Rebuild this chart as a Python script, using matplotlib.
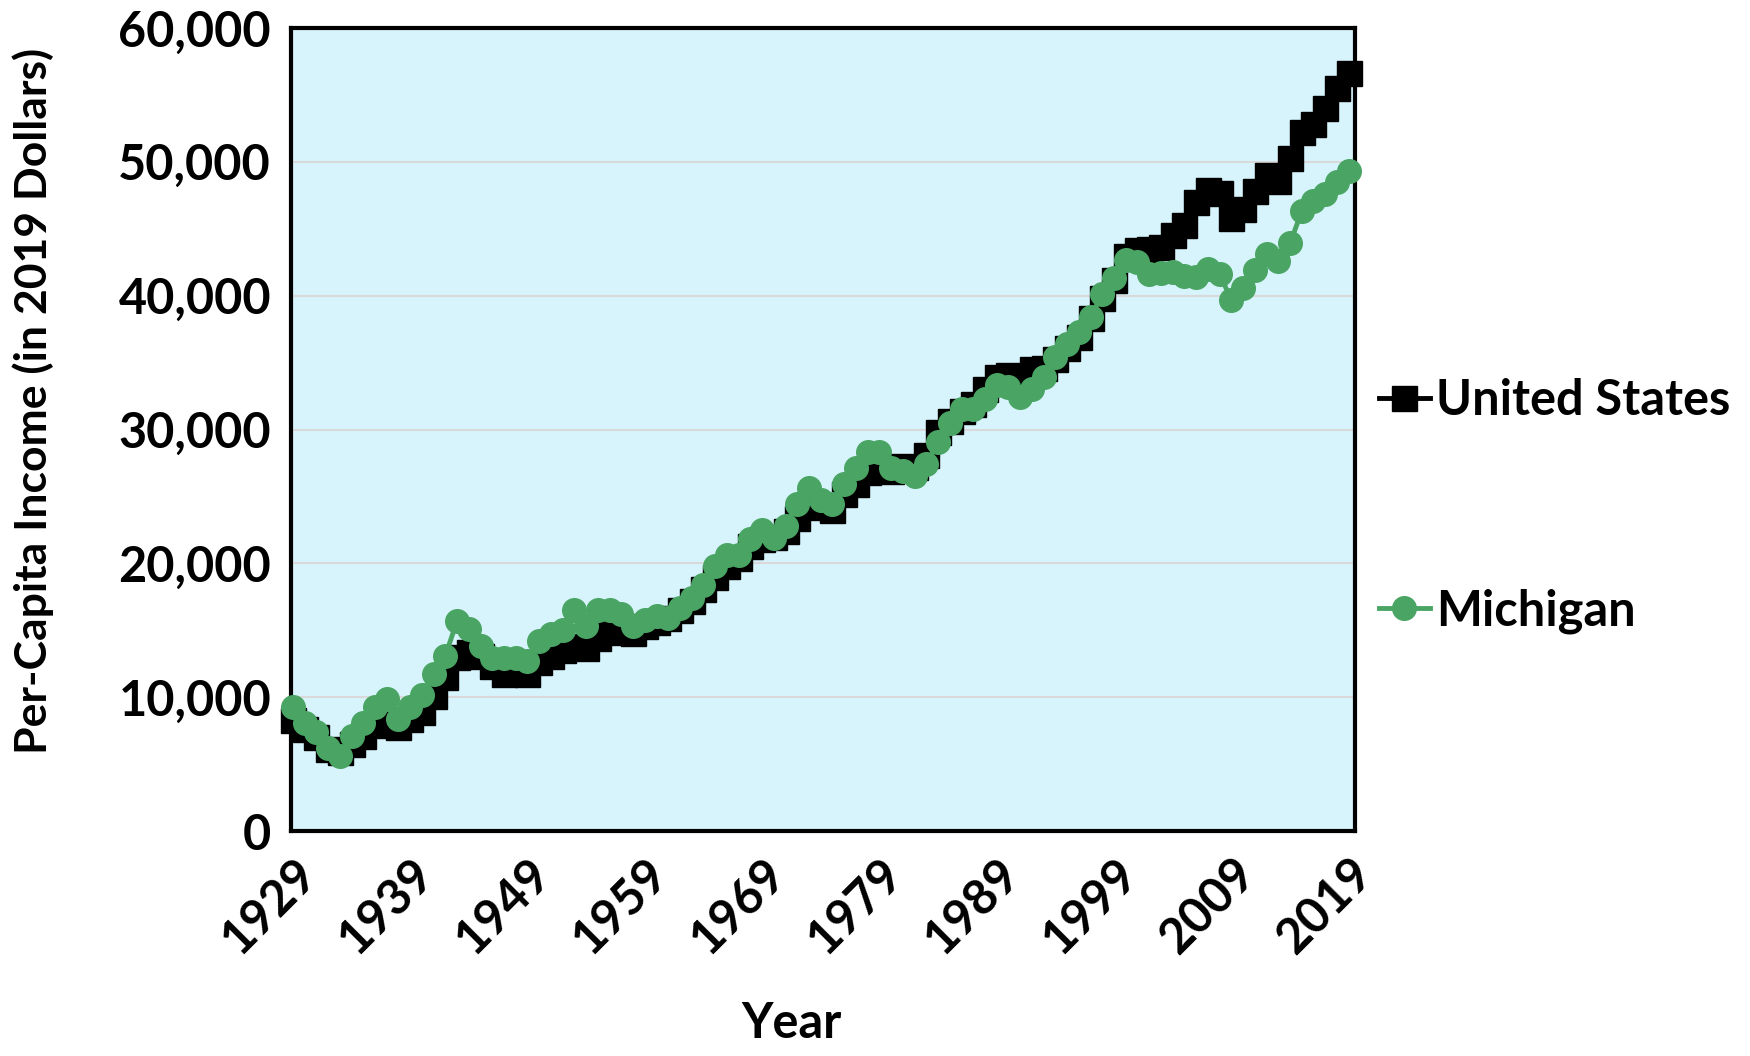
import matplotlib
matplotlib.use("Agg")
import matplotlib.pyplot as plt
from matplotlib.ticker import FuncFormatter

# per-capita income, 2019 dollars
years = list(range(1929, 2020))

us = [
    8300, 7600, 7000, 6100, 5900, 6500, 7100, 7900, 8300, 7800,   # 1929-1938
    8400, 8900, 10100, 11500, 13000, 13400, 13100, 12300, 11700, 11800,   # 1939-1948
    11700, 12600, 13100, 13500, 13800, 13700, 14400, 14900, 15000, 14800,   # 1949-1958
    15300, 15600, 15900, 16500, 17200, 18100, 19000, 19800, 20400, 21300,   # 1959-1968
    21800, 22000, 22400, 23400, 24400, 24200, 24000, 25200, 25900, 26800,   # 1969-1978
    27100, 26900, 27300, 27200, 28100, 29800, 30600, 31400, 31900, 33000,   # 1979-1988
    33900, 34100, 34000, 34500, 34600, 35300, 36100, 36900, 38300, 39800,   # 1989-1998
    41200, 43000, 43400, 43500, 43600, 44500, 45300, 47000, 47900, 47700,   # 1999-2008
    45800, 46500, 47800, 49000, 48600, 50300, 52200, 52800, 54000, 55500,   # 2009-2018
    56600,   # 2019
]

michigan = [
    9300, 8100, 7400, 6200, 5600, 7100, 8100, 9300, 9900, 8400,   # 1929-1938
    9300, 10200, 11700, 13100, 15700, 15100, 13800, 12900, 12900, 12900,   # 1939-1948
    12700, 14200, 14700, 15000, 16500, 15300, 16500, 16500, 16200, 15300,   # 1949-1958
    15800, 16100, 15900, 16700, 17400, 18400, 19800, 20600, 20600, 21800,   # 1959-1968
    22500, 21900, 22800, 24400, 25600, 24700, 24400, 25900, 27100, 28300,   # 1969-1978
    28300, 27100, 26900, 26500, 27400, 29100, 30500, 31500, 31500, 32300,   # 1979-1988
    33300, 33200, 32400, 33000, 33900, 35400, 36400, 37300, 38400, 40100,   # 1989-1998
    41300, 42700, 42500, 41600, 41700, 41800, 41500, 41400, 42000, 41600,   # 1999-2008
    39700, 40600, 41900, 43100, 42600, 43900, 46300, 47100, 47600, 48500,   # 2009-2018
    49300,   # 2019
]

tick_years = [1929, 1939, 1949, 1959, 1969, 1979, 1989, 1999, 2009, 2019]

plt.rcParams["font.family"] = ["Lato", "DejaVu Sans"]
plt.rcParams["font.weight"] = "bold"

fig = plt.figure(figsize=(17.5, 10.56), dpi=100)
ax = fig.add_axes([0.166, 0.213, 0.608, 0.7605])
ax.set_facecolor("#D7F4FC")

ax.plot(years, us, color="black", lw=3.5, marker="s", ms=18,
        label="United States", clip_on=False, zorder=3)
ax.plot(years, michigan, color="#4AA564", lw=3.5, marker="o", ms=17,
        label="Michigan", clip_on=False, zorder=4)

ax.set_xlim(1928.8, 2019.5)
ax.set_ylim(0, 60000)
ax.set_yticks(range(0, 60001, 10000))
ax.yaxis.set_major_formatter(FuncFormatter(lambda v, p: f"{int(v):,}"))
ax.set_xticks(tick_years)
ax.grid(axis="y", color="#D9D9D9", lw=1.5)
ax.set_axisbelow(True)
ax.tick_params(length=0, labelsize=35)
ax.tick_params(axis="y", pad=14)
ax.tick_params(axis="x", pad=14)
for lab in ax.get_xticklabels():
    lab.set_rotation(45)
    lab.set_ha("right")
    lab.set_va("top")
    lab.set_rotation_mode("anchor")
for lab in ax.get_xticklabels() + ax.get_yticklabels():
    lab.set_fontweight("bold")

for s in ax.spines.values():
    s.set_linewidth(3)
    s.set_color("black")

ax.set_ylabel("Per-Capita Income (in 2019 Dollars)", fontsize=32, fontweight="bold")
ax.yaxis.set_label_coords(-0.222, 0.535)
ax.set_xlabel("Year", fontsize=35, fontweight="bold")
ax.xaxis.set_label_coords(0.471, -0.212)

ax.legend(loc="center left", bbox_to_anchor=(1.0, 0.405), frameon=False,
          prop={"weight": "bold", "size": 35},
          labelspacing=3.4, handlelength=1.05, handletextpad=0.12, borderaxespad=0.1)

fig.savefig("out.png", dpi=100)
